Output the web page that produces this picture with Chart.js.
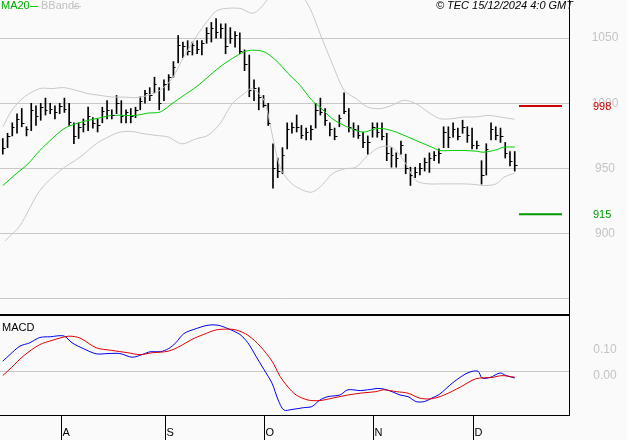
<!DOCTYPE html>
<html><head><meta charset="utf-8">
<script src="https://cdn.jsdelivr.net/npm/chart.js@4"></script>
<style>
html,body{margin:0;padding:0;background:#fafafa;}
#w{position:relative;width:627px;height:440px;}
canvas{position:absolute;left:0;}
</style></head><body>
<div id="w"><canvas id="c1" width="627" height="316" style="top:0;width:627px;height:316px"></canvas><canvas id="c2" width="627" height="124" style="top:316px;width:627px;height:124px"></canvas></div>
<script>
const highs=[973,977,985,992,996,982,1000,998,1000,1004,1000,998,1000,1004,1000,985,985,988,997,989,988,997,1002,995,1006,1002,995,996,997,1005,1010,1012,1020,1012,1018,1022,1032,1052,1047,1048,1047,1048,1048,1058,1062,1065,1061,1061,1058,1055,1054,1041,1037,1018,1012,1006,1000,969,958,966,985,985,991,983,981,983,1000,1004,996,985,981,991,1008,996,985,983,978,975,985,985,985,977,966,962,971,961,951,951,954,958,962,963,965,982,982,985,981,987,982,981,971,956,969,985,982,981,970,963,963];
const lows=[961,966,975,977,982,975,979,983,987,991,992,988,992,993,983,969,973,978,979,981,978,985,988,988,992,985,985,985,989,995,1000,1002,1008,995,1002,1010,1020,1031,1035,1037,1037,1038,1037,1046,1047,1050,1050,1038,1046,1043,1038,1025,1005,1002,995,997,983,935,943,946,965,977,978,973,972,972,981,991,983,975,972,982,992,978,974,973,966,961,974,974,972,956,951,951,961,946,937,943,945,948,947,956,954,966,966,974,972,977,970,965,965,938,945,972,972,970,958,952,948];
const closes=[966,975,982,988,985,980,995,990,997,995,996,993,998,996,986,975,982,984,990,985,983,994,995,991,1000,990,993,990,995,1002,1008,1006,1015,1000,1015,1020,1028,1045,1044,1040,1045,1042,1046,1054,1058,1055,1058,1044,1050,1052,1040,1030,1010,1012,1005,999,985,950,948,960,980,982,982,976,978,980,995,993,987,980,975,989,994,982,980,976,970,970,982,978,975,962,960,958,968,950,945,947,950,955,958,960,962,978,974,980,975,982,976,968,968,945,965,980,976,975,962,956,953];
const maX=[0,2.8,5.3,7.8,10.4,12.9,15.4,18,20.5,23,25.6,28.1,30.6,33.2,35.7,38.2,40.8,43.3,45.8,48.4,50.9,52.6,55.1,57.6,60.2,62.7,65.2,66.9,69.5,72,74.5,76.2,78.7,80.4,83,85.5,88,90.5,92.2,94.8,97.3,99.8,101.5,104.1,105.7,108];
const maV=[936.9,945.9,953.5,963.8,972.8,980.5,984.3,986.9,988.9,990.7,990.7,990.7,992.5,993.3,999.7,1006.1,1012.5,1020.2,1027.9,1034.3,1039.5,1040.7,1039.5,1033,1022.8,1013.8,1002.3,997.1,988.2,983,979.2,977.9,980.5,980.5,977.9,974.1,970.2,966.4,963.8,963.8,963.8,963.3,962.5,964.3,966.4,966.4];
const upX=[0,1.9,4.5,7.8,10.4,12.9,15.4,18,20.5,23,25.6,28.1,30.6,33.2,35.7,38.2,40.8,43.3,45.4,50,52.6,54.3,58.5,61.9,64.8,66.9,69.5,72,74.5,77,79.6,82.1,84.6,87.2,89.7,92.2,94.8,97.3,99.8,102.4,104.9,108];
const upV=[981.8,994.6,1004.8,1011.3,1011.3,1012,1010,1007.4,1006.1,1004.8,1004.8,1004.3,1006.1,1010,1018.9,1035.6,1051,1063.8,1071.5,1072.8,1069,1072.8,1090,1088,1072.8,1053.6,1030.5,1010,1003.6,997.1,995.9,998.4,1002.3,999.7,993.3,988.2,988.2,989.5,989.5,990.7,989.5,987.7];
const loX=[0.5,3.6,7.8,12.1,16.3,19.7,22.2,24.7,27.3,29.8,32.3,34.9,37.8,40.8,43.3,45.8,48.4,50.9,52.6,55.1,56.8,58.5,61,64.8,66.9,69.5,72,74.5,77,79.6,82.1,84.6,87.2,89.7,92.2,94.8,97.3,99.8,101.5,104.1,105.7,108];
const loV=[894.6,906.1,933,948.4,958.7,968.9,974.1,977.9,978.4,976.6,975.4,974.1,968.9,972.8,975.4,984.3,999.7,1007.4,1011.3,1002.3,976.6,951,938.2,931.8,935.6,945.9,949.7,951,960,966.4,966.4,956.1,940.7,938.2,938.2,938.2,938.2,937.7,936.9,938.2,943.3,946.4];
const macdX=[0,1.5,3.6,5.7,7.8,10,12.9,14.6,17.1,19.7,22.2,24.7,27.3,29.4,31.1,33.2,34.9,36.5,38.2,40.8,43.3,45.4,47.5,50,51.7,53.4,55.1,56.8,58.1,59.3,61,63.5,65.2,66.9,68.6,71.1,72.8,75.4,77,79.6,82.1,83.8,85.5,87.2,88.9,90.5,92.2,94.8,97.3,99,100.3,101.1,102.8,104.9,106.2,108];
const macdV=[0.040,0.065,0.097,0.110,0.130,0.133,0.136,0.110,0.087,0.068,0.069,0.069,0.055,0.065,0.076,0.076,0.087,0.110,0.145,0.164,0.177,0.177,0.164,0.142,0.110,0.059,0.008,-0.044,-0.108,-0.146,-0.144,-0.137,-0.133,-0.108,-0.095,-0.089,-0.069,-0.072,-0.069,-0.064,-0.076,-0.089,-0.095,-0.114,-0.114,-0.101,-0.085,-0.044,-0.012,0.001,0.001,-0.024,-0.022,-0.005,-0.015,-0.024];
const sigX=[0,1.9,4.5,7.8,10.4,13.8,16.3,19.7,23,26.4,28.9,31.5,34.9,37.4,39.9,42.4,45,47.5,49.2,51.7,54.3,56.8,58.5,60.2,61.9,64.4,66.9,69.5,72.8,75.4,78.7,80.4,83,85.5,88,90.5,93.1,96.5,99.8,103.2,105.3,108];
const sigV=[-0.015,0.017,0.062,0.103,0.119,0.135,0.128,0.091,0.081,0.072,0.065,0.072,0.078,0.097,0.123,0.142,0.159,0.162,0.159,0.139,0.097,0.040,-0.018,-0.059,-0.089,-0.108,-0.110,-0.101,-0.089,-0.082,-0.076,-0.069,-0.076,-0.082,-0.101,-0.103,-0.089,-0.059,-0.027,-0.022,-0.015,-0.021];
const monthTicks=[12.3,34.2,55.1,78.1,99.2];
const monthLabels=['A','S','O','N','D'];
const priceTicks=[900,950,1000,1050];
const macdTicks=[0,0.1];
const resistance=998, support=915;

const XMIN=-0.59, XMAX=119.45;
const F='"Liberation Sans", Arial, sans-serif';
const pts=(xs,vs)=>xs.map((x,i)=>({x:x,y:vs[i]}));
const fixW={afterFit:s=>{s.width=58;}};
const yLabels=(c,ys,vals,fmt,dy)=>{c.fillStyle='#c4c4c4';c.font='12px '+F;c.textAlign='center';c.textBaseline='middle';
  vals.forEach(v=>c.fillText(fmt(v),605,ys.getPixelForValue(v)+dy));};

const ohlcTicks={id:'ohlc',afterDatasetsDraw(ch){
  const c=ch.ctx,xs=ch.scales.x,ys=ch.scales.y;
  c.save();
  yLabels(c,ys,priceTicks,v=>String(v),0);
  c.strokeStyle='#000';c.lineWidth=1;c.beginPath();
  closes.forEach((v,i)=>{const px=Math.round(xs.getPixelForValue(i));const py=Math.round(ys.getPixelForValue(v))+0.5;c.moveTo(px,py);c.lineTo(px+2.5,py);});
  c.stroke();
  const a=ch.chartArea;
  const lv=(v,col)=>{const py=ys.getPixelForValue(v);c.strokeStyle=col;c.lineWidth=2;c.beginPath();c.moveTo(519,py);c.lineTo(562,py);c.stroke();
    c.fillStyle=col;c.font='11px '+F;c.textAlign='left';c.textBaseline='middle';c.fillText(String(v),593,py+1);};
  lv(resistance,'#cc0000');lv(support,'#009900');
  c.strokeStyle='#000';c.lineWidth=1;c.beginPath();c.moveTo(a.right+0.5,0);c.lineTo(a.right+0.5,a.bottom);c.stroke();
  c.lineWidth=3;c.beginPath();c.moveTo(0,a.bottom-0.5);c.lineTo(a.right+1,a.bottom-0.5);c.stroke();
  c.font='11px '+F;c.textBaseline='middle';c.textAlign='left';
  c.fillStyle='#00aa00';c.fillText('MA20',1,6);c.strokeStyle='#00cc00';c.lineWidth=1;c.beginPath();c.moveTo(30,6.5);c.lineTo(38,6.5);c.stroke();
  c.fillStyle='#c0c0c0';c.fillText('BBands',41,6);c.strokeStyle='#c8c8c8';c.beginPath();c.moveTo(72,6.5);c.lineTo(81,6.5);c.stroke();
  c.fillStyle='#000';c.textAlign='right';c.font='italic 11px '+F;c.fillText('\u00a9 TEC 15/12/2024 4:0 GMT',573,6);
  c.restore();}};

new Chart(document.getElementById('c1'),{
  data:{datasets:[
    {type:'line',data:pts(upX,upV),borderColor:'#c8c8c8',borderWidth:1,pointRadius:0,tension:0.3},
    {type:'line',data:pts(loX,loV),borderColor:'#c8c8c8',borderWidth:1,pointRadius:0,tension:0.3},
    {type:'line',data:pts(maX,maV),borderColor:'#00cc00',borderWidth:1,pointRadius:0,tension:0.3},
    {type:'bar',data:highs.map((h,i)=>({x:i,y:[lows[i],h]})),backgroundColor:'#000',barThickness:1,grouped:false}
  ]},
  options:{responsive:false,maintainAspectRatio:false,animation:false,devicePixelRatio:1,
    layout:{padding:0},
    plugins:{legend:{display:false},tooltip:{enabled:false}},
    scales:{
      x:{type:'linear',min:XMIN,max:XMAX,display:false,offset:false},
      y:{position:'right',min:836.9,max:1079.2,...fixW,border:{display:false},
        grid:{color:'#c8c8c8',drawTicks:false},
        afterBuildTicks:s=>{s.ticks=[850,900,950,1000,1050].map(v=>({value:v}));},
        ticks:{display:false}}
    }},
  plugins:[ohlcTicks]
});

const macdDeco={id:'md',afterDatasetsDraw(ch){
  const c=ch.ctx,a=ch.chartArea,xs=ch.scales.x;
  c.save();
  yLabels(c,ch.scales.y,macdTicks,v=>v.toFixed(2),4);
  c.strokeStyle='#000';c.lineWidth=1;c.beginPath();
  c.moveTo(a.right+0.5,0);c.lineTo(a.right+0.5,a.bottom+1);
  c.moveTo(0,a.bottom+0.5);c.lineTo(a.right+1,a.bottom+0.5);
  monthTicks.forEach(t=>{const px=Math.round(xs.getPixelForValue(t))+0.5;c.moveTo(px,a.bottom);c.lineTo(px,124);});
  c.stroke();
  c.fillStyle='#000';c.font='11px '+F;c.textAlign='left';c.textBaseline='middle';
  monthTicks.forEach((t,i)=>{c.fillText(monthLabels[i],xs.getPixelForValue(t)+1.5,117);});
  c.fillText('MACD',2,12);
  c.restore();}};

new Chart(document.getElementById('c2'),{
  data:{datasets:[
    {type:'line',data:pts(sigX,sigV),borderColor:'#dd0000',borderWidth:1,pointRadius:0,tension:0.3},
    {type:'line',data:pts(macdX,macdV),borderColor:'#0000ee',borderWidth:1,pointRadius:0,tension:0.3}
  ]},
  options:{responsive:false,maintainAspectRatio:false,animation:false,devicePixelRatio:1,
    layout:{padding:{bottom:25}},
    plugins:{legend:{display:false},tooltip:{enabled:false}},
    scales:{
      x:{type:'linear',min:XMIN,max:XMAX,display:false,offset:false},
      y:{position:'right',min:-0.165,max:0.212,...fixW,border:{display:false},
        grid:{color:c=>c.tick&&c.tick.value===0?'#c8c8c8':'rgba(0,0,0,0)',drawTicks:false},
        afterBuildTicks:s=>{s.ticks=[0].map(v=>({value:v}));},
        ticks:{display:false}}
    }},
  plugins:[macdDeco]
});
</script>
</body></html>
